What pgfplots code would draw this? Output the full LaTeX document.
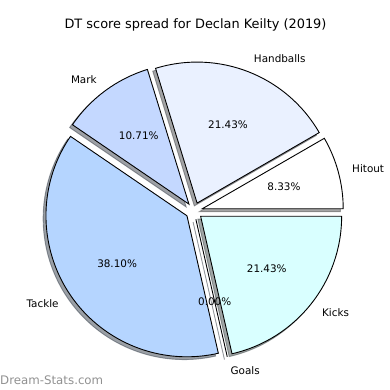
\documentclass[border=0pt]{standalone}
\usepackage{fontspec}
\setmainfont{DejaVu Sans}
\usepackage{pgfplots}
\usepackage{pgfplotstable}
\pgfplotsset{compat=1.18}

\definecolor{cHit}{RGB}{255,255,255}
\definecolor{cHand}{RGB}{234,241,255}
\definecolor{cMark}{RGB}{196,216,255}
\definecolor{cTack}{RGB}{181,213,255}
\definecolor{cGoal}{RGB}{200,228,255}
\definecolor{cKick}{RGB}{217,255,255}
\definecolor{wmark}{RGB}{145,145,145}

% DT score components, counter-clockwise from 0 degrees
\pgfplotstableread{
label value color
Hitout 7 cHit
Handballs 18 cHand
Mark 9 cMark
Tackle 32 cTack
Goals 0 cGoal
Kicks 18 cKick
}\piedata

\newcommand\piecx{194}
\newcommand\piecy{179}
\newcommand\pieR{141}
\newcommand\pied{8.5}
\newcommand\pieshadow{2.8}

\newcommand\piepass[1]{%
  \xdef\pieang{0}%
  \foreach \i in {0,...,5}{%
    \pgfplotstablegetelem{\i}{value}\of\piedata \let\pv\pgfplotsretval
    \pgfplotstablegetelem{\i}{color}\of\piedata \let\pc\pgfplotsretval
    \pgfplotstablegetelem{\i}{label}\of\piedata \let\pl\pgfplotsretval
    \pgfmathsetmacro\pa{\pieang}%
    \pgfmathsetmacro\pb{\pieang+360*\pv/\pietotal}%
    \pgfmathsetmacro\pm{(\pa+\pb)/2}%
    \pgfmathsetmacro\ox{\piecx+\pied*cos(\pm)}%
    \pgfmathsetmacro\oy{\piecy+\pied*sin(\pm)}%
    \ifcase#1
      \pgfmathsetmacro\sx{\ox-\pieshadow}%
      \pgfmathsetmacro\sy{\oy-\pieshadow}%
      \filldraw[fill=\pc!30!black, draw=\pc!30!black, opacity=0.5, line width=0.9bp]
        (axis cs:\sx,\sy) -- ++(\pa:\pieR bp) arc[start angle=\pa, end angle=\pb, radius=\pieR bp] -- cycle;
    \or
      \filldraw[fill=\pc, draw=black, line width=0.9bp, line join=miter]
        (axis cs:\ox,\oy) -- ++(\pa:\pieR bp) arc[start angle=\pa, end angle=\pb, radius=\pieR bp] -- cycle;
    \or
      \pgfmathsetmacro\cm{cos(\pm)}%
      \ifdim\cm pt>0pt \def\anc{west}\else\def\anc{east}\fi
      \pgfmathsetmacro\lx{\ox+1.1*\pieR*cos(\pm)}%
      \pgfmathsetmacro\ly{\oy+1.1*\pieR*sin(\pm)}%
      \pgfmathsetmacro\tx{\ox+0.6*\pieR*cos(\pm)}%
      \pgfmathsetmacro\ty{\oy+0.6*\pieR*sin(\pm)}%
      \pgfmathsetmacro\pct{\pv*100/\pietotal}%
      \node[anchor=\anc, inner sep=0pt, font=\fontsize{10.4bp}{12bp}\selectfont] at (axis cs:\lx,\ly) {\pl};
      \node[anchor=center, inner sep=0pt, font=\fontsize{10.4bp}{12bp}\selectfont] at (axis cs:\tx,\ty)
        {\pgfmathprintnumber[fixed, fixed zerofill, precision=2, assume math mode=true]{\pct}\%};
    \fi
    \xdef\pieang{\pb}%
  }%
}

\begin{document}
\begin{tikzpicture}
\useasboundingbox (0,0) rectangle (390bp,390bp);
\begin{axis}[
  at={(0,0)}, anchor=south west,
  x=1bp, y=1bp, xmin=0, xmax=390, ymin=0, ymax=390,
  hide axis, clip=false,
]
\pgfplotsextra{%
  \xdef\pietotal{0}%
  \foreach \i in {0,...,5}{%
    \pgfplotstablegetelem{\i}{value}\of\piedata
    \pgfmathsetmacro\tmp{\pietotal+\pgfplotsretval}%
    \xdef\pietotal{\tmp}%
  }%
  \piepass{0}%
  \piepass{1}%
  \piepass{2}%
  \node[anchor=center, inner sep=0pt, font=\fontsize{12.9bp}{15bp}\selectfont] at (axis cs:195.5,365)
    {DT score spread for Declan Keilty (2019)};
  \node[anchor=west, inner sep=0pt, text=wmark, font=\fontsize{11.8bp}{14bp}\selectfont] at (axis cs:0,10)
    {Dream-Stats.com};
}
\end{axis}
\end{tikzpicture}
\end{document}
